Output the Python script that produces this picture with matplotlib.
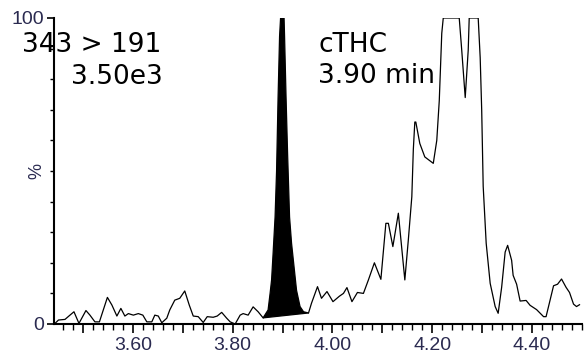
import matplotlib
matplotlib.use("Agg")
import matplotlib.pyplot as plt
from matplotlib.ticker import FixedLocator, MultipleLocator, FuncFormatter
from matplotlib.transforms import blended_transform_factory

# retention time (min) and relative intensity (%)
times_before = [3.444, 3.451, 3.464, 3.474, 3.482, 3.492, 3.506, 3.514, 3.524, 3.533,
                3.549, 3.558, 3.568, 3.576, 3.584, 3.591, 3.601, 3.611, 3.620, 3.628,
                3.638, 3.644, 3.651, 3.658, 3.668, 3.674, 3.684, 3.694, 3.704, 3.713,
                3.721, 3.731, 3.741, 3.749, 3.761, 3.769, 3.778, 3.788, 3.795, 3.805,
                3.815, 3.821, 3.831, 3.841, 3.851, 3.861]
values_before = [0.2, 1.3, 1.5, 2.9, 4.0, 0.2, 4.4, 2.9, 0.7, 0.7,
                 8.7, 6.2, 2.6, 5.1, 2.6, 3.4, 2.9, 3.4, 2.9, 0.7,
                 0.7, 2.9, 2.6, 0.4, 1.9, 4.6, 7.8, 8.4, 10.8, 6.2,
                 2.6, 2.4, 0.5, 2.4, 2.2, 2.6, 3.8, 1.9, 0.7, 0.0,
                 2.9, 3.4, 2.9, 5.6, 4.0, 2.0]

# cTHC peak (filled)
peak_times = [3.861, 3.871, 3.875, 3.878, 3.881, 3.885, 3.888, 3.891, 3.894, 3.896,
              3.903, 3.904, 3.907, 3.910, 3.914, 3.918, 3.923, 3.928, 3.935, 3.942,
              3.952]
peak_values = [2.0, 4.6, 10, 14.4, 23, 35, 50, 74, 94, 100,
               100, 94, 74, 56, 35, 26.4, 18.7, 11, 5.7, 4.0,
               3.6]

times_after = [3.952, 3.958, 3.970, 3.978, 3.989, 4.001, 4.014, 4.022, 4.029, 4.039,
               4.050, 4.062, 4.072, 4.084, 4.097, 4.107, 4.112, 4.121, 4.132, 4.145,
               4.152, 4.159, 4.162, 4.165, 4.167, 4.175, 4.185, 4.202, 4.209, 4.214,
               4.219, 4.222, 4.254, 4.259, 4.266, 4.272, 4.274, 4.292, 4.296, 4.299,
               4.302, 4.308, 4.316, 4.326, 4.332, 4.339, 4.346, 4.351, 4.359, 4.362,
               4.369, 4.376, 4.388, 4.396, 4.409, 4.423, 4.428, 4.435, 4.443, 4.451,
               4.459, 4.468, 4.475, 4.483, 4.489, 4.495]
values_after = [3.6, 6.8, 12.2, 8.4, 10.6, 7.3, 9.1, 10.0, 11.9, 7.3,
                10.3, 10.0, 14.4, 20.0, 14.6, 32.9, 32.9, 25.3, 36.2, 14.4,
                27.5, 41.6, 57, 66, 66, 59, 54.6, 52.5, 60, 73,
                95, 100, 100, 89.5, 74, 89.5, 100, 100, 87, 70,
                45, 26.4, 13.3, 5.7, 3.5, 12, 23.5, 25.7, 20.8, 15.9,
                13, 7.5, 7.7, 6.1, 4.7, 2.4, 2.4, 7.1, 12.5, 13,
                14.7, 12, 10.3, 6.5, 5.7, 6.3]

x_major = [3.5, 3.6, 3.7, 3.8, 3.9, 4.0, 4.1, 4.2, 4.3, 4.4]
x_labelled = [3.6, 3.8, 4.0, 4.2, 4.4]

fig = plt.figure(figsize=(5.84, 3.58), dpi=100)
ax = fig.add_axes([54 / 584, 34 / 358, 528 / 584, 306 / 358])

ax.plot(times_before, values_before, color="black", lw=0.9)
ax.plot(times_after, values_after, color="black", lw=0.9)
ax.fill(peak_times, peak_values, color="black", lw=0.9)

ax.set_xlim(3.442, 4.5)
ax.set_ylim(0, 100)

for s in ["top", "right"]:
    ax.spines[s].set_visible(False)
for s in ["left", "bottom"]:
    ax.spines[s].set_linewidth(1.5)

tick_color = "#2a2a50"
ax.xaxis.set_major_locator(FixedLocator(x_major))
ax.xaxis.set_minor_locator(MultipleLocator(0.02))
ax.xaxis.set_major_formatter(FuncFormatter(
    lambda v, p: "%.2f" % v if any(abs(v - l) < 1e-6 for l in x_labelled) else ""))
ax.tick_params(axis="x", which="major", length=6.5, width=1.2, pad=3,
               labelsize=14, labelcolor=tick_color)
ax.tick_params(axis="x", which="minor", length=4, width=1.0)

ax.yaxis.set_major_locator(FixedLocator([0, 100]))
ax.yaxis.set_minor_locator(MultipleLocator(10))
ax.tick_params(axis="y", which="major", length=5, width=1.2, pad=2,
               labelsize=14, labelcolor=tick_color)
ax.tick_params(axis="y", which="minor", length=3, width=1.0)
for lab in ax.get_xticklabels() + ax.get_yticklabels():
    lab.set_family("Liberation Sans")

trans = blended_transform_factory(ax.transAxes, ax.transData)
ax.text(-0.032, 50, "%", rotation=90, ha="center", va="center", fontsize=13,
        color=tick_color, family="Liberation Sans", transform=trans)

fig.text(22 / 584, 1 - 45 / 358, "343 > 191", fontsize=19, va="center", ha="left")
fig.text(71 / 584, 1 - 77 / 358, "3.50e3", fontsize=19, va="center", ha="left")
fig.text(318 / 584, 1 - 45 / 358, "cTHC", fontsize=19, va="center", ha="left")
fig.text(318 / 584, 1 - 76 / 358, "3.90 min", fontsize=19, va="center", ha="left")

plt.savefig("out.png", dpi=100)
